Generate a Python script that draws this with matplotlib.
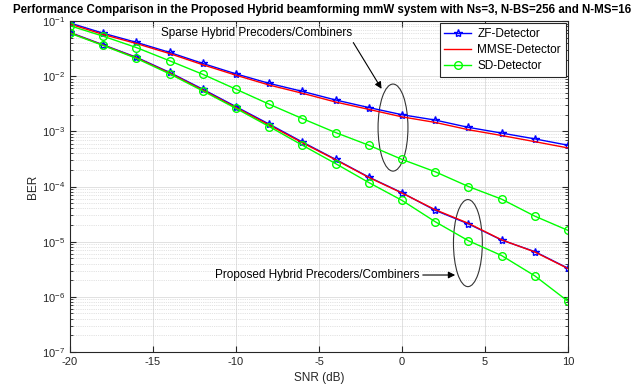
import matplotlib.pyplot as plt
import matplotlib.ticker as mticker
from matplotlib.patches import Ellipse
import numpy as np

plt.rcParams['font.family'] = ['Liberation Sans', 'DejaVu Sans']
plt.rcParams['mathtext.fontset'] = 'custom'
plt.rcParams['mathtext.rm'] = 'Liberation Sans'
plt.rcParams['mathtext.it'] = 'Liberation Sans:italic'
plt.rcParams['axes.unicode_minus'] = False

# SNR grid (dB)
snr = [-20, -18, -16, -14, -12, -10, -8, -6, -4, -2, 0, 2, 4, 6, 8, 10]

# Sparse hybrid precoders/combiners
zf_sparse = [0.092, 0.060, 0.041, 0.027, 0.017, 0.011, 0.0074, 0.0053, 0.0037,
             0.0027, 0.0020, 0.0016, 0.00118, 0.00093, 0.00073, 0.00056]
mmse_sparse = [0.088, 0.057, 0.039, 0.0257, 0.0161, 0.0104, 0.0069, 0.0049, 0.0034,
               0.0025, 0.00183, 0.00145, 0.00107, 0.00084, 0.00065, 0.00050]
sd_sparse = [0.082, 0.053, 0.033, 0.019, 0.0108, 0.0058, 0.0031, 0.0017, 0.00095,
             0.00056, 0.00031, 0.000185, 0.000100, 5.9e-5, 2.9e-5, 1.6e-5]

# Proposed hybrid precoders/combiners
zf_prop = [0.062, 0.037, 0.022, 0.0117, 0.0058, 0.0028, 0.00135, 0.00064, 0.00031,
           0.000148, 7.7e-5, 3.7e-5, 2.1e-5, 1.07e-5, 6.6e-6, 3.3e-6]
mmse_prop = [0.061, 0.0365, 0.0215, 0.0114, 0.0056, 0.0027, 0.0013, 0.00062, 0.000305,
             0.000146, 7.6e-5, 3.8e-5, 2.15e-5, 1.08e-5, 6.5e-6, 3.25e-6]
sd_prop = [0.060, 0.036, 0.021, 0.011, 0.0054, 0.0026, 0.00122, 0.00056, 0.00026,
           0.000118, 5.6e-5, 2.3e-5, 1.04e-5, 5.6e-6, 2.4e-6, 8.3e-7]

BLUE = '#0000ff'
RED = '#ff0000'
GREEN = '#00ff00'
TXT = '#262626'

fig = plt.figure(figsize=(6.44, 3.86), dpi=100)
ax = fig.add_axes([70/644, 1 - 352/386, 498/644, 331/386])

ax.semilogy(snr, zf_sparse, '-*', color=BLUE, lw=1, ms=6, mfc='none', mew=1, label='ZF-Detector')
ax.semilogy(snr, mmse_sparse, '-', color=RED, lw=1, label='MMSE-Detector')
ax.semilogy(snr, sd_sparse, '-o', color=GREEN, lw=1, ms=5.5, mfc='none', label='SD-Detector')
ax.semilogy(snr, zf_prop, '-*', color=BLUE, lw=1, ms=6, mfc='none', mew=1)
ax.semilogy(snr, mmse_prop, '-', color=RED, lw=1)
ax.semilogy(snr, sd_prop, '-o', color=GREEN, lw=1, ms=5.5, mfc='none')

ax.set_xlim(-20, 10)
ax.set_ylim(1e-7, 1e-1)
ax.set_xticks([-20, -15, -10, -5, 0, 5, 10])
ax.yaxis.set_major_locator(mticker.LogLocator(base=10, numticks=10))
ax.yaxis.set_minor_locator(mticker.LogLocator(base=10, subs=np.arange(2, 10), numticks=20))
ax.yaxis.set_minor_formatter(mticker.NullFormatter())

ax.grid(which='major', color='#dcdcdc', lw=0.6, ls='-')
ax.grid(which='minor', axis='y', color='#c8c8c8', lw=0.5, ls=':')
ax.set_axisbelow(True)
ax.tick_params(which='both', direction='in', top=True, right=True, labelsize=8, colors=TXT)
ax.tick_params(which='major', length=4)
ax.tick_params(which='minor', length=2)
for s in ax.spines.values():
    s.set_color(TXT)
    s.set_linewidth(0.8)

ax.set_xlabel('SNR (dB)', fontsize=8.5, color=TXT, labelpad=4)
ax.set_ylabel('BER', fontsize=8.5, color=TXT, labelpad=2)
fig.suptitle('Performance Comparison in the Proposed Hybrid beamforming mmW system with Ns=3, N-BS=256 and N-MS=16',
             fontsize=8.3, fontweight='bold', x=0.5, y=0.975, va='center')

leg = ax.legend(loc='upper right', fontsize=8.5, fancybox=False, framealpha=1,
                edgecolor=TXT, borderaxespad=0.2, handlelength=2.3, handletextpad=0.5,
                labelspacing=0.35)
leg.get_frame().set_linewidth(0.8)

# ellipses and text arrows (axes fraction)
ax.add_patch(Ellipse((0.6486, 0.678), 0.060, 0.263, transform=ax.transAxes,
                     fill=False, ec='#333333', lw=0.8))
ax.add_patch(Ellipse((0.799, 0.329), 0.058, 0.263, transform=ax.transAxes,
                     fill=False, ec='#333333', lw=0.8))

ax.text(0.566, 0.964, 'Sparse Hybrid Precoders/Combiners', transform=ax.transAxes,
        ha='right', va='center', fontsize=8.5)
ax.annotate('', xy=(0.6285, 0.788), xytext=(0.566, 0.942), xycoords='axes fraction',
            textcoords='axes fraction',
            arrowprops=dict(arrowstyle='-|>', color='black', lw=0.8, mutation_scale=10))
ax.text(0.7028, 0.2326, 'Proposed Hybrid Precoders/Combiners', transform=ax.transAxes,
        ha='right', va='center', fontsize=8.5)
ax.annotate('', xy=(0.779, 0.2326), xytext=(0.7028, 0.2326), xycoords='axes fraction',
            textcoords='axes fraction',
            arrowprops=dict(arrowstyle='-|>', color='black', lw=0.8, mutation_scale=10))

fig.savefig('out.png', dpi=100)
